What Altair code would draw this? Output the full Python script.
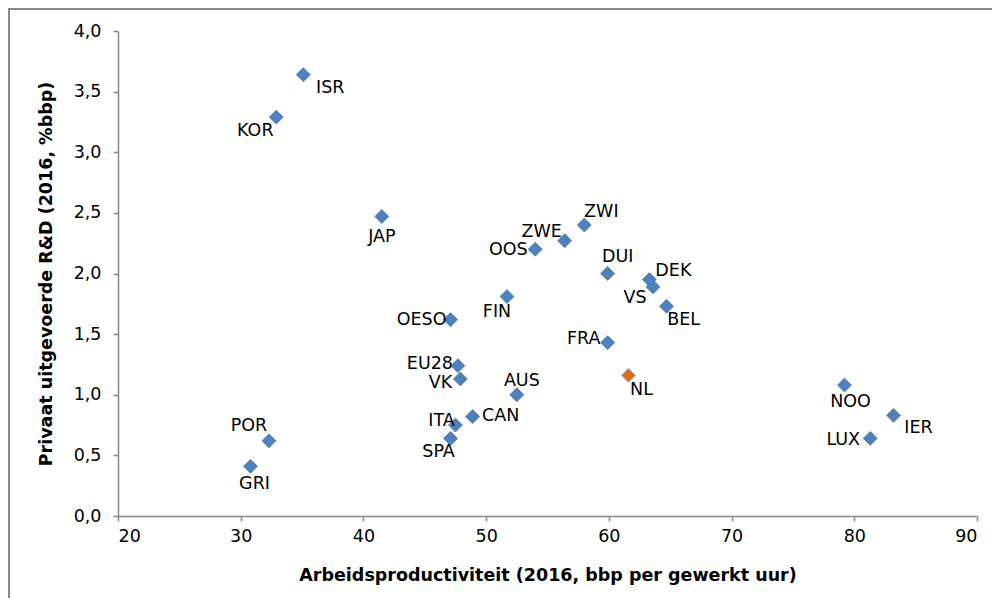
import altair as alt
import pandas as pd

# data
countries = ["ISR", "KOR", "JAP", "ZWI", "ZWE", "OOS", "DUI", "DEK", "VS", "BEL",
             "FIN", "OESO", "FRA", "NL", "EU28", "VK", "AUS", "CAN", "ITA", "SPA",
             "POR", "GRI", "NOO", "IER", "LUX"]
productivity = [35.1, 32.9, 41.5, 58.0, 56.4, 54.0, 59.9, 63.3, 63.6, 64.7,
                51.7, 47.1, 59.9, 61.6, 47.7, 47.9, 52.5, 48.9, 47.5, 47.1,
                32.3, 30.8, 79.2, 83.2, 81.3]
rd_private = [3.64, 3.29, 2.47, 2.40, 2.27, 2.20, 2.00, 1.95, 1.89, 1.73,
              1.81, 1.62, 1.43, 1.16, 1.24, 1.13, 1.00, 0.82, 0.75, 0.64,
              0.62, 0.41, 1.08, 0.83, 0.64]
# label offsets from the marker (pixels, label centre)
label_dx = [27, -21, 0, 17, -23, -27, 10, 24, -18, 17,
            -10, -29, -24, 13, -28, -20, 5, 28, -14, -12,
            -20, 4, 6, 25, -27]
label_dy = [13, 14, 20, -13, -9, 1, -17, -9, 11, 14,
            15, 0, -4, 15, -2, 4, -14, -1, -4, 14,
            -15, 18, 17, 13, 2]
highlight = ["NL"]

x_ticks = [20, 30, 40, 50, 60, 70, 80, 90]
y_ticks = [0.0, 0.5, 1.0, 1.5, 2.0, 2.5, 3.0, 3.5, 4.0]

W, H = 859, 485
XMIN, XMAX, YMIN, YMAX = 20, 90, 0, 4

df = pd.DataFrame({"land": countries, "x": productivity, "y": rd_private})
df["nl"] = df["land"].isin(highlight)
df["lx"] = df["x"] + pd.Series(label_dx) * (XMAX - XMIN) / W
df["ly"] = df["y"] - pd.Series(label_dy) * (YMAX - YMIN) / H

FONT = "DejaVu Sans"
AXC = "#898989"
FS = 17.5

xscale = alt.Scale(domain=[XMIN, XMAX], nice=False, zero=False)
yscale = alt.Scale(domain=[YMIN, YMAX], nice=False)

xaxis = alt.Axis(values=x_ticks, title="Arbeidsproductiviteit (2016, bbp per gewerkt uur)",
                 grid=False, domainColor=AXC, domainWidth=1.5, tickColor=AXC, tickWidth=1.5,
                 tickSize=5, labelFont=FONT, labelFontSize=FS, labelColor="#000000",
                 labelPadding=6, titleFont=FONT, titleFontSize=17.5, titleFontWeight="bold",
                 titleColor="#000000", titleY=59, titleBaseline="middle")
yaxis = alt.Axis(values=y_ticks, title="Privaat uitgevoerde R&D (2016, %bbp)",
                 labelExpr="replace(format(datum.value, '.1f'), '.', ',')",
                 grid=False, domainColor=AXC, domainWidth=1.5, tickColor=AXC, tickWidth=1.5,
                 tickSize=5, labelFont=FONT, labelFontSize=FS, labelColor="#000000",
                 labelPadding=12, titleFont=FONT, titleFontSize=17.5, titleFontWeight="bold",
                 titleColor="#000000", titleX=-72, titleY=H / 2, titleBaseline="middle")

base = alt.Chart(df)

points = base.mark_point(shape="diamond", filled=True, size=190, opacity=1,
                         strokeWidth=1).encode(
    x=alt.X("x:Q", scale=xscale, axis=xaxis),
    y=alt.Y("y:Q", scale=yscale, axis=yaxis),
    fill=alt.condition("datum.nl", alt.value("#E46C0A"), alt.value("#4F81BD")),
    stroke=alt.condition("datum.nl", alt.value("#8EA9D0"), alt.value("#4A7EBB")),
)

labels = base.mark_text(font=FONT, fontSize=FS, color="#000000", align="center",
                        baseline="middle").encode(
    x=alt.X("lx:Q", scale=xscale),
    y=alt.Y("ly:Q", scale=yscale),
    text="land:N",
)

one = pd.DataFrame({"a": [0]})
frame_left = alt.Chart(one).mark_rule(color="#898989", strokeWidth=2).encode(
    x=alt.value(-109), y=alt.value(-22), y2=alt.value(700))
frame_top = alt.Chart(one).mark_rule(color="#898989", strokeWidth=2).encode(
    x=alt.value(-110), x2=alt.value(960), y=alt.value(-22))

chart = alt.layer(frame_left, frame_top, points, labels).properties(
    width=W, height=H,
    background="#ffffff",
    autosize=alt.AutoSizeParams(type="none"),
    padding={"left": 110, "top": 23, "right": 15, "bottom": 82},
).configure_view(stroke="#ffffff", strokeWidth=0, strokeOpacity=0)

chart.save("out.html", embed_options={"renderer": "svg", "actions": False})
